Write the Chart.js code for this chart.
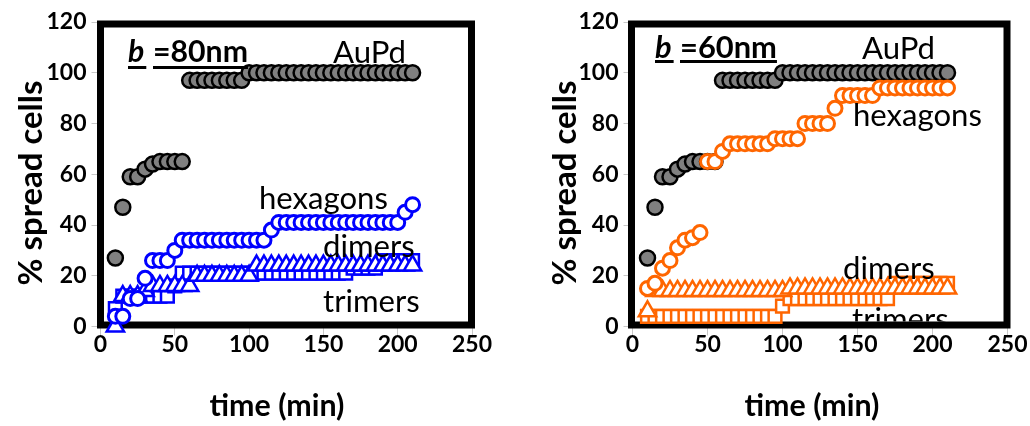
<!DOCTYPE html>
<html><head><meta charset="utf-8">
<script src="https://cdn.jsdelivr.net/npm/chart.js@4"></script>
<style>
html,body{margin:0;padding:0;background:#fff;overflow:hidden;}
#wrap{position:relative;width:1030px;height:426px;}
canvas{position:absolute;top:0;}
</style></head>
<body><div id="wrap">
<canvas id="c1" width="515" height="426" style="left:0"></canvas>
<canvas id="c2" width="515" height="426" style="left:515px"></canvas>
</div>
<script>
// ---- data (time in min, % spread cells) ----
const minutes = [10,15,20,25,30,35,40,45,50,55,60,65,70,75,80,85,90,95,100,105,110,115,120,125,130,135,140,145,150,155,160,165,170,175,180,185,190,195,200,205,210];

const auPd80 = [27,47,59,59,62,64,65,65,65,65,97,97,97,97,97,97,97,97,100,100,100,100,100,100,100,100,100,100,100,100,100,100,100,100,100,100,100,100,100,100,100];
const hexagons80 = [4,4,11,11,19,26,26,26,30,34,34,34,34,34,34,34,34,34,34,34,34,38,41,41,41,41,41,41,41,41,41,41,41,41,41,41,41,41,41,45,48];
const dimers80 = [7,12,12,12,12,12,12,12,16,21,21,21,21,21,21,21,21,21,21,21,21,21,21,21,21,21,21,21,21,21,21,21,23,23,23,23,26,26,26,26,26];
const trimers80 = [0,12,12,12,14,16,16,16,16,16,16,20,20,20,20,20,20,20,20,24,24,24,24,24,24,24,24,24,24,24,24,24,24,24,24,24,24,24,24,24,24];

const auPd60 = [27,47,59,59,62,64,65,65,65,65,97,97,97,97,97,97,97,97,100,100,100,100,100,100,100,100,100,100,100,100,100,100,100,100,100,100,100,100,100,100,100];
const hexagons60 = [15,17,23,26,31,34,35,37,65,65,69,72,72,72,72,72,72,74,74,74,74,80,80,80,80,86,91,91,91,91,91,94,94,94,94,94,94,94,94,94,94];
const dimers60 = [4,4,4,4,4,4,4,4,4,4,4,4,4,4,4,4,4,4,8,11,11,11,11,11,11,11,11,11,11,11,11,11,11,17,17,17,17,17,17,17,17];
const trimers60 = [6,14,14,14,14,14,14,14,14,14,14,14,14,14,14,14,14,14,14,15,15,15,15,15,15,15,15,15,15,15,15,15,15,15,15,15,15,15,15,15,15];

const xTicks = [0,50,100,150,200,250];
const yTicks = [0,20,40,60,80,100,120];

const seriesNames = ['AuPd','hexagons','dimers','trimers'];
const panelLabels = ['b', '=80nm', '=60nm'];
const axisTitles = ['time (min)', '% spread cells'];

// ---- styling ----
const FONT = 'Lato';
const BLUE = '#0000FF', ORANGE = '#FF6600';

function pts(vals){ return vals.map((v,i)=>({x:minutes[i], y:v})); }

function datasets(au, hex, dim, tri, col){
  return [
    {label:seriesNames[1], data:pts(hex), order:0, pointStyle:'circle', pointRadius:7, pointBorderWidth:3,
     pointBackgroundColor:'#fff', pointBorderColor:col, showLine:false, clip:false},
    {label:seriesNames[3], data:pts(tri), order:1, pointStyle:'triangle', pointRadius:10, pointBorderWidth:2.5,
     pointBackgroundColor:'#fff', pointBorderColor:col, showLine:false, clip:false},
    {label:seriesNames[2], data:pts(dim), order:2, pointStyle:'rect', pointRadius:9, pointBorderWidth:2.5,
     pointBackgroundColor:'#fff', pointBorderColor:col, showLine:false, clip:false},
    {label:seriesNames[0], data:pts(au), order:3, pointStyle:'circle', pointRadius:7.5, pointBorderWidth:2.5,
     pointBackgroundColor:'#808080', pointBorderColor:'#000', showLine:false, clip:false}
  ];
}

function decor(cfg){
  return {
    id:'decor',
    beforeDatasetsDraw(chart){
      const {ctx, chartArea:a} = chart;
      ctx.save();
      ctx.strokeStyle='#000'; ctx.lineWidth=7;
      const f = cfg.frame;
      ctx.strokeRect(a.left+f[0], a.top+f[1], (a.right+f[2])-(a.left+f[0]), (a.bottom+f[3])-(a.top+f[1]));
      ctx.restore();
    },
    afterDatasetsDraw(chart){
      const {ctx, chartArea:a} = chart;
      const f = cfg.frame;
      ctx.save();
      ctx.beginPath();
      ctx.rect(a.left+f[0]+3.5, a.top+f[1]+3.5, (a.right+f[2]-3.5)-(a.left+f[0]+3.5), (a.bottom+f[3]-3.5)-(a.top+f[1]+3.5));
      ctx.clip();
      ctx.fillStyle='#000';
      ctx.textBaseline='alphabetic'; ctx.textAlign='left';
      ctx.font = `400 100px ${FONT}`;
      const size = 100*cfg.hexW/ctx.measureText(seriesNames[1]).width;
      ctx.font = `400 ${size}px ${FONT}`;
      cfg.labels.forEach(l=>ctx.fillText(l.t, l.x, l.y));
      const p = cfg.panel;
      ctx.font = `bold 100px ${FONT}`;
      const s2 = 100*p.w/ctx.measureText(p.t).width;
      ctx.font = `italic bold ${s2}px ${FONT}`;
      ctx.fillText(panelLabels[0], p.bx, p.y);
      const bw = ctx.measureText(panelLabels[0]).width;
      ctx.font = `bold ${s2}px ${FONT}`;
      ctx.fillText(p.t, p.x, p.y);
      const tw = ctx.measureText(p.t).width;
      ctx.fillRect(p.bx, p.uy, bw+2, 3);
      ctx.fillRect(p.x, p.uy, tw, 3);
      ctx.restore();
    },
    afterDraw(chart){
      const {ctx} = chart;
      ctx.save();
      ctx.fillStyle='#000';
      ctx.font = `bold 100px ${FONT}`;
      let s = 100*cfg.xt.w/ctx.measureText(axisTitles[0]).width;
      ctx.font = `bold ${s}px ${FONT}`;
      ctx.textAlign='center'; ctx.textBaseline='alphabetic';
      ctx.fillText(axisTitles[0], cfg.xt.x, cfg.xt.y);
      ctx.font = `bold 100px ${FONT}`;
      s = 100*cfg.yt.w/ctx.measureText(axisTitles[1]).width;
      ctx.font = `bold ${s}px ${FONT}`;
      ctx.translate(cfg.yt.x, cfg.yt.y); ctx.rotate(-Math.PI/2);
      ctx.textBaseline='middle';
      ctx.fillText(axisTitles[1], 0, 0);
      ctx.restore();
    }
  };
}

function makeChart(id, ds, yWidth, padRight, cfg){
  return new Chart(document.getElementById(id), {
    type:'scatter',
    data:{datasets:ds},
    options:{
      responsive:false, animation:false, events:[],
      layout:{padding:{top:22, right:padRight, bottom:0, left:0}},
      plugins:{legend:{display:false}, tooltip:{enabled:false}},
      scales:{
        x:{type:'linear', min:0, max:250,
           afterBuildTicks:s=>{ s.ticks = xTicks.map(v=>({value:v})); },
           grid:{drawOnChartArea:false, drawTicks:true, tickLength:9, color:'#c8c8c8'},
           border:{display:false},
           ticks:{font:{family:FONT, weight:'bold', size:23}, color:'#000', padding:-5, maxRotation:0, autoSkip:false},
           afterFit:s=>{ s.height = 99.5; }},
        y:{type:'linear', min:0, max:120,
           afterBuildTicks:s=>{ s.ticks = yTicks.map(v=>({value:v})); },
           grid:{drawOnChartArea:false, drawTicks:true, tickLength:9, color:'#c8c8c8'},
           border:{display:false},
           ticks:{font:{family:FONT, weight:'bold', size:23}, color:'#000', padding:5},
           afterFit:s=>{ s.width = yWidth; }}
      }
    },
    plugins:[decor(cfg)]
  });
}

function build(){
  makeChart('c1', datasets(auPd80, hexagons80, dimers80, trimers80, BLUE), 100.5, 43, {
    frame:[0, 2, -0.5, -1.5],
    hexW:129,
    labels:[{t:seriesNames[0], x:333, y:63},{t:seriesNames[1], x:259, y:209},{t:seriesNames[2], x:323, y:257},{t:seriesNames[3], x:323, y:312}],
    panel:{bx:128, x:153, y:62, uy:66, w:95, t:panelLabels[1]},
    xt:{x:277, y:416, w:135},
    yt:{x:31, y:183, w:205}
  });
  makeChart('c2', datasets(auPd60, hexagons60, dimers60, trimers60, ORANGE), 117.5, 22.5, {
    frame:[-1, 2, -0.5, -1.5],
    hexW:129,
    labels:[{t:seriesNames[0], x:347, y:59},{t:seriesNames[1], x:338, y:126},{t:seriesNames[2], x:328, y:279},{t:seriesNames[3], x:337, y:330}],
    panel:{bx:140, x:165, y:58, uy:60, w:97, t:panelLabels[2]},
    xt:{x:297, y:416, w:135},
    yt:{x:50, y:183, w:205}
  });
}
if (document.fonts && document.fonts.load) {
  Promise.all([document.fonts.load(`bold 20px ${FONT}`), document.fonts.load(`20px ${FONT}`), document.fonts.load(`italic bold 20px ${FONT}`)]).then(build, build);
} else build();
</script>
</body></html>
